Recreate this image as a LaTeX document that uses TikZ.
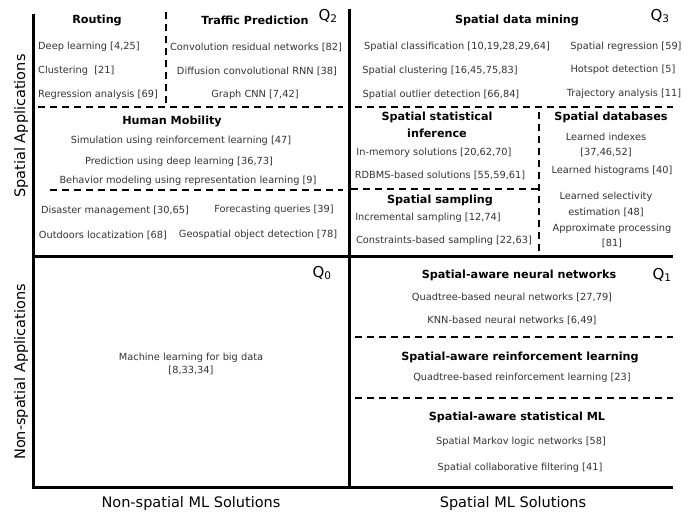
\documentclass[tikz,border=0pt]{standalone}
\usepackage{fontspec}
\setmainfont{DejaVu Sans}
\usetikzlibrary{positioning}

\begin{document}
\begin{tikzpicture}[x=1pt, y=-1pt,
  item/.style={inner sep=0pt, text=black!80, font=\fontsize{9.8}{14}\selectfont, align=center},
  head/.style={inner sep=0pt, font=\fontsize{11.2}{16.5}\selectfont\bfseries, align=center},
  axis/.style={inner sep=0pt, font=\fontsize{14.5}{17}\selectfont},
  qlab/.style={inner sep=0pt, font=\fontsize{15}{17}\selectfont},
  frame/.style={line width=3pt},
  split/.style={line width=1.3pt, dash pattern=on 7pt off 5pt},
]
\useasboundingbox (0,0) rectangle (699,513);

% axes and quadrant borders
\draw[frame] (33,14) -- (33,487) -- (673,487);
\draw[frame] (33,257) -- (673,257);
\draw[frame] (349,9) -- (349,487);

% dashed separators
\draw[split] (166,12) -- (166,104);
\draw[split] (38,107) -- (343,107);
\draw[split] (50,190) -- (343,190);
\draw[split] (355,107) -- (673,107);
\draw[split] (351,189) -- (538,189);
\draw[split] (539,112) -- (539,252);
\draw[split] (355,337) -- (673,337);
\draw[split] (355,398) -- (673,398);

% quadrant labels
\node[qlab] (q2) at (328,16) {Q\textsubscript{2}};
\node[qlab] (q3) at (660,16) {Q\textsubscript{3}};
\node[qlab] (q0) at (322,273) {Q\textsubscript{0}};
\node[qlab] (q1) at (662,275) {Q\textsubscript{1}};

% Q2: spatial applications, non-spatial ML
\node[head] (routing) at (97,20) {Routing};
\node[item, anchor=west] (rt1) at (38,47) {Deep learning [4,25]};
\node[item, anchor=west] (rt2) at (38,71) {Clustering\ \ [21]};
\node[item, anchor=west] (rt3) at (38,95) {Regression analysis [69]};
\node[head] (traffic) at (255,20) {Traffic Prediction};
\node[item] (tp1) at (256,47) {Convolution residual networks [82]};
\node[item] (tp2) at (257,71) {Diffusion convolutional RNN [38]};
\node[item] (tp3) at (255,95) {Graph CNN [7,42]};
\node[head] (mobility) at (172,121) {Human Mobility};
\node[item] (hm1) at (181,141) {Simulation using reinforcement learning [47]};
\node[item] (hm2) at (179,162) {Prediction using deep learning [36,73]};
\node[item] (hm3) at (188,181) {Behavior modeling using representation learning [9]};
\node[item] (ot1) at (115,211) {Disaster management [30,65]};
\node[item] (ot2) at (274,210) {Forecasting queries [39]};
\node[item] (ot3) at (103,235) {Outdoors locatization [68]};
\node[item] (ot4) at (258,235) {Geospatial object detection [78]};

% Q3: spatial applications, spatial ML
\node[head] (mining) at (517,20) {Spatial data mining};
\node[item] (dm1) at (457,47) {Spatial classification [10,19,28,29,64]};
\node[item] (dm2) at (440,71) {Spatial clustering [16,45,75,83]};
\node[item] (dm3) at (441,95) {Spatial outlier detection [66,84]};
\node[item] (dm4) at (626,47) {Spatial regression [59]};
\node[item] (dm5) at (623,70) {Hotspot detection [5]};
\node[item] (dm6) at (624,94) {Trajectory analysis [11]};
\node[head] (inference) at (437,125) {Spatial statistical\\inference};
\node[item] (si1) at (434,153) {In-memory solutions [20,62,70]};
\node[item] (si2) at (440,175) {RDBMS-based solutions [55,59,61]};
\node[head] (sampling) at (440,200) {Spatial sampling};
\node[item] (ss1) at (428,218) {Incremental sampling [12,74]};
\node[item] (ss2) at (444,241) {Constraints-based sampling [22,63]};
\node[head] (databases) at (611,117) {Spatial databases};
\node[item, font=\fontsize{9.8}{15}\selectfont] (db1) at (606,145) {Learned indexes\\{}[37,46,52]};
\node[item] (db2) at (612,171) {Learned histograms [40]};
\node[item, font=\fontsize{9.8}{16}\selectfont] (db3) at (606,204) {Learned selectivity\\estimation [48]};
\node[item, font=\fontsize{9.8}{15}\selectfont] (db4) at (612,236) {Approximate processing\\{}[81]};

% Q1: non-spatial applications, spatial ML
\node[head] (neural) at (519,275) {Spatial-aware neural networks};
\node[item] (nn1) at (512,297) {Quadtree-based neural networks [27,79]};
\node[item] (nn2) at (512,320) {KNN-based neural networks [6,49]};
\node[head] (reinforce) at (520,357) {Spatial-aware reinforcement learning};
\node[item] (rl1) at (522,378) {Quadtree-based reinforcement learning [23]};
\node[head] (statml) at (517,417) {Spatial-aware statistical ML};
\node[item] (sm1) at (521,442) {Spatial Markov logic networks [58]};
\node[item] (sm2) at (520,468) {Spatial collaborative filtering [41]};

% Q0: non-spatial applications, non-spatial ML
\node[item, font=\fontsize{9.8}{13}\selectfont] (bigdata) at (191,364) {Machine learning for big data\\{}[8,33,34]};

% axis titles
\node[axis] (xnon) at (191,503) {Non-spatial ML Solutions};
\node[axis] (xsp) at (513,503) {Spatial ML Solutions};
\node[axis, rotate=90] (ysp) at (21,126) {Spatial Applications};
\node[axis, rotate=90] (ynon) at (21,372) {Non-spatial Applications};
\end{tikzpicture}
\end{document}
